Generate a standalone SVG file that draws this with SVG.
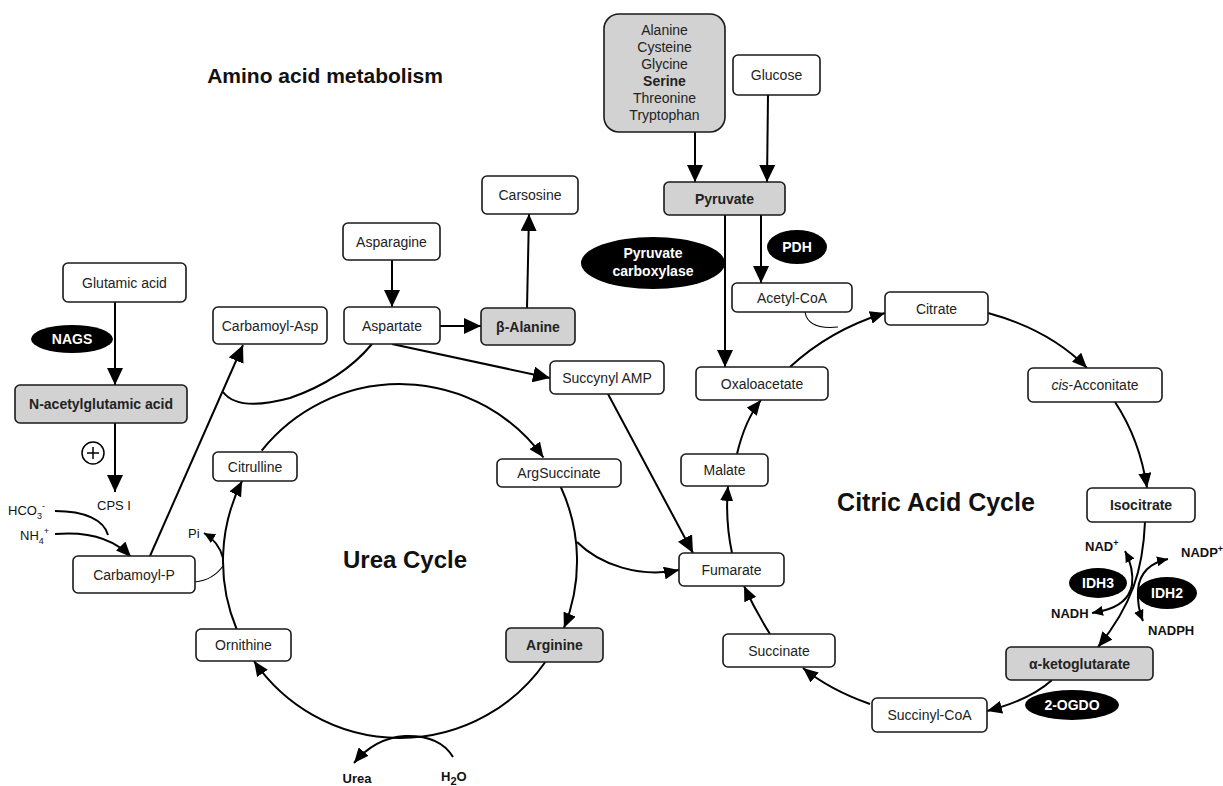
<svg xmlns="http://www.w3.org/2000/svg" width="1223" height="786" viewBox="0 0 1223 786">
<style>
.box{fill:#fff;stroke:#1a1a1a;stroke-width:1.6}
.gbox{fill:#d2d2d2;stroke:#1a1a1a;stroke-width:1.6}
.t{font-family:"Liberation Sans",Arial,sans-serif;font-size:14px;fill:#222;text-anchor:middle}
.b{font-weight:bold}
.en{fill:#000}
.et{font-family:"Liberation Sans",Arial,sans-serif;font-size:14px;fill:#fff;font-weight:bold;text-anchor:middle}
.ln{fill:none;stroke:#000;stroke-width:2}
.thin{fill:none;stroke:#000;stroke-width:1.1}
.lab{font-family:"Liberation Sans",Arial,sans-serif;font-size:13px;fill:#111}
.title{font-family:"Liberation Sans",Arial,sans-serif;font-weight:bold;fill:#111;text-anchor:middle}
</style>
<defs>
<marker id="a" markerUnits="userSpaceOnUse" markerWidth="17" markerHeight="16" refX="17" refY="8" orient="auto"><path d="M0,0 L17,8 L0,16 z" fill="#000"/></marker>
<marker id="m" markerUnits="userSpaceOnUse" markerWidth="15" markerHeight="13" refX="15" refY="6.5" orient="auto"><path d="M0,0 L15,6.5 L0,13 z" fill="#000"/></marker>
<marker id="s" markerUnits="userSpaceOnUse" markerWidth="11" markerHeight="10" refX="11" refY="5" orient="auto"><path d="M0,0 L11,5 L0,10 z" fill="#000"/></marker>
</defs>

<text class="title" x="325" y="83" font-size="21">Amino acid metabolism</text>
<text class="title" x="405" y="568" font-size="24">Urea Cycle</text>
<text class="title" x="936" y="511" font-size="25">Citric Acid Cycle</text>

<g id="connectors">
<line class="ln" x1="115" y1="302" x2="115" y2="385" marker-end="url(#a)"/>
<line class="ln" x1="115" y1="423" x2="115" y2="492" marker-end="url(#a)"/>
<path class="ln" d="M55,511 C85,511 104,520 108,535"/>
<path class="ln" d="M55,534 C90,531 115,540 131,557" marker-end="url(#m)"/>
<line class="ln" x1="150" y1="556" x2="243" y2="345" marker-end="url(#a)"/>
<path class="ln" d="M223,392 Q238,412 290,398 Q342,380 372,344"/>
<line class="ln" x1="392" y1="260" x2="392" y2="307" marker-end="url(#a)"/>
<line class="ln" x1="440" y1="326" x2="481" y2="326" marker-end="url(#a)"/>
<line class="ln" x1="527" y1="308" x2="529" y2="214" marker-end="url(#a)"/>
<line class="ln" x1="392" y1="344" x2="550" y2="378" marker-end="url(#a)"/>
<line class="ln" x1="608" y1="394" x2="693" y2="553" marker-end="url(#a)"/>
<path class="ln" d="M577,542 C600,565 640,578 679,570" marker-end="url(#m)"/>
<path class="ln" d="M261.7,450.6 A177,177 0 0 1 543.5,457.5" marker-end="url(#m)"/>
<path class="ln" d="M560.8,487 A177,177 0 0 1 563.9,628" marker-end="url(#m)"/>
<path class="ln" d="M545.3,662 A177,177 0 0 1 254,661" marker-end="url(#m)"/>
<path class="ln" d="M236.6,629 A177,177 0 0 1 242.1,481" marker-end="url(#m)"/>
<path class="thin" d="M195,582 Q213,580 223,566"/>
<path class="ln" d="M223,558 Q219,542 204,533" stroke-width="1.6" marker-end="url(#s)"/>
<path class="ln" d="M453,757 Q440,735 405,736 Q375,738 354,763" marker-end="url(#m)"/>
<line class="ln" x1="695" y1="132" x2="695" y2="182" marker-end="url(#a)"/>
<line class="ln" x1="768" y1="95" x2="767" y2="182" marker-end="url(#a)"/>
<line class="ln" x1="725" y1="215" x2="725" y2="367" marker-end="url(#a)"/>
<line class="ln" x1="761" y1="215" x2="761" y2="283" marker-end="url(#a)"/>
<path class="thin" d="M805,312 Q808,330 838,327"/>
<path class="ln" d="M790,367 Q830,330 885,313" marker-end="url(#m)"/>
<path class="ln" d="M988,313 Q1050,330 1087,368" marker-end="url(#m)"/>
<path class="ln" d="M1115,402 Q1140,440 1147,488" marker-end="url(#m)"/>
<path class="ln" d="M1145,522 C1143,570 1132,605 1098,647" marker-end="url(#m)"/>
<path class="ln" d="M1052,680 Q1030,700 987,711" marker-end="url(#m)"/>
<path class="ln" d="M870,704 Q830,690 803,668" marker-end="url(#m)"/>
<path class="ln" d="M770,634 Q755,610 744,586" marker-end="url(#m)"/>
<path class="ln" d="M732,553 Q725,520 728,486" marker-end="url(#m)"/>
<path class="ln" d="M737,454 Q745,420 761,400" marker-end="url(#m)"/>
<path class="ln" stroke-width="1.5" d="M1102,611 Q1128,605 1132,585 Q1134,568 1125,551" marker-end="url(#s)"/>
<path class="ln" stroke-width="1.5" d="M1102,611 L1092,613" marker-end="url(#s)"/>
<path class="ln" stroke-width="1.5" d="M1138,590 Q1140,565 1168,559" marker-end="url(#s)"/>
<path class="ln" stroke-width="1.5" d="M1138,590 Q1137,607 1143,621" marker-end="url(#s)"/>
</g>

<g id="plus"><circle cx="93" cy="453" r="11" fill="none" stroke="#000" stroke-width="1.5"/><line x1="87" y1="453" x2="99" y2="453" stroke="#000" stroke-width="1.5"/><line x1="93" y1="447" x2="93" y2="459" stroke="#000" stroke-width="1.5"/></g>

<g id="labels">
<text class="lab" x="114" y="510" text-anchor="middle" font-size="14">CPS I</text>
<text class="lab" x="8" y="515" font-size="14">HCO<tspan font-size="9" dy="4">3</tspan><tspan font-size="9" dy="-10">-</tspan></text>
<text class="lab" x="20" y="540" font-size="14">NH<tspan font-size="9" dy="4">4</tspan><tspan font-size="9" dy="-10">+</tspan></text>
<text class="lab" x="188" y="538" font-size="14">Pi</text>
<text class="lab" x="357" y="783" text-anchor="middle" font-weight="bold" font-size="16">Urea</text>
<text class="lab" x="441" y="781" font-weight="bold" font-size="16">H<tspan font-size="11" dy="4">2</tspan><tspan dy="-4">O</tspan></text>
<text class="lab" x="1085" y="551" font-weight="bold" font-size="14">NAD<tspan font-size="9" dy="-5">+</tspan></text>
<text class="lab" x="1051" y="618" font-weight="bold" font-size="14">NADH</text>
<text class="lab" x="1181" y="557" font-weight="bold" font-size="14">NADP<tspan font-size="9" dy="-5">+</tspan></text>
<text class="lab" x="1148" y="635" font-weight="bold" font-size="14">NADPH</text>
</g>

<g id="n-glutamic"><rect class="box" x="63" y="263" width="123" height="39" rx="5"/><text class="t" x="124.5" y="287.5">Glutamic acid</text></g>
<g id="n-nags"><ellipse class="en" cx="72" cy="339" rx="41" ry="14"/><text class="et" x="72" y="344" font-size="13">NAGS</text></g>
<g id="n-nacetyl"><rect class="gbox" x="15" y="385" width="172" height="38" rx="5"/><text class="t b" x="101" y="409">N-acetylglutamic acid</text></g>
<g id="n-carbamoylp"><rect class="box" x="73" y="556" width="122" height="37" rx="5"/><text class="t" x="134" y="579.5">Carbamoyl-P</text></g>
<g id="n-carbamoylasp"><rect class="box" x="213" y="307" width="114" height="37" rx="5"/><text class="t" x="270" y="330.5">Carbamoyl-Asp</text></g>
<g id="n-aspartate"><rect class="box" x="344" y="307" width="96" height="37" rx="5"/><text class="t" x="392" y="330.5">Aspartate</text></g>
<g id="n-balanine"><rect class="gbox" x="481" y="308" width="94" height="37" rx="5"/><text class="t b" x="528" y="331.5">β-Alanine</text></g>
<g id="n-asparagine"><rect class="box" x="343" y="223" width="97" height="37" rx="5"/><text class="t" x="391.5" y="246.5">Asparagine</text></g>
<g id="n-carsosine"><rect class="box" x="482" y="176" width="96" height="38" rx="5"/><text class="t" x="530" y="200">Carsosine</text></g>
<g id="n-succynylamp"><rect class="box" x="550" y="361" width="114" height="33" rx="5"/><text class="t" x="607" y="382.5">Succynyl AMP</text></g>
<g id="n-citrulline"><rect class="box" x="213" y="452" width="84" height="29" rx="5"/><text class="t" x="255" y="471.5">Citrulline</text></g>
<g id="n-argsuccinate"><rect class="box" x="497" y="459" width="124" height="28" rx="5"/><text class="t" x="559" y="478">ArgSuccinate</text></g>
<g id="n-ornithine"><rect class="box" x="196" y="629" width="95" height="32" rx="5"/><text class="t" x="243.5" y="650">Ornithine</text></g>
<g id="n-arginine"><rect class="gbox" x="506" y="628" width="97" height="34" rx="5"/><text class="t b" x="554.5" y="650">Arginine</text></g>
<g id="n-aminoacids"><rect class="gbox" x="604" y="14" width="121" height="118" rx="15"/>
<text class="t" font-size="13"><tspan x="664.5" y="35">Alanine</tspan><tspan x="664.5" y="52">Cysteine</tspan><tspan x="664.5" y="69">Glycine</tspan><tspan x="664.5" y="86" font-weight="bold">Serine</tspan><tspan x="664.5" y="103">Threonine</tspan><tspan x="664.5" y="120">Tryptophan</tspan></text></g>
<g id="n-glucose"><rect class="box" x="733" y="55" width="87" height="40" rx="5"/><text class="t" x="776.5" y="80">Glucose</text></g>
<g id="n-pyruvate"><rect class="gbox" x="664" y="182" width="121" height="33" rx="5"/><text class="t b" x="724.5" y="203.5">Pyruvate</text></g>
<g id="n-pc"><ellipse class="en" cx="653" cy="263" rx="72" ry="26"/><text class="et" x="653" y="258">Pyruvate</text><text class="et" x="653" y="276">carboxylase</text></g>
<g id="n-pdh"><ellipse class="en" cx="797" cy="247" rx="30" ry="17"/><text class="et" x="797" y="252" font-size="13">PDH</text></g>
<g id="n-acetylcoa"><rect class="box" x="732" y="283" width="120" height="29" rx="5"/><text class="t" x="792" y="302.5">Acetyl-CoA</text></g>
<g id="n-oxaloacetate"><rect class="box" x="696" y="367" width="132" height="33" rx="5"/><text class="t" x="762" y="388.5">Oxaloacetate</text></g>
<g id="n-citrate"><rect class="box" x="885" y="292" width="103" height="33" rx="5"/><text class="t" x="936.5" y="313.5">Citrate</text></g>
<g id="n-cisaconitate"><rect class="box" x="1028" y="368" width="134" height="34" rx="5"/><text class="t" x="1095" y="390"><tspan font-style="italic">cis</tspan>-Acconitate</text></g>
<g id="n-isocitrate"><rect class="box" x="1087" y="488" width="108" height="34" rx="5"/><text class="t b" x="1141" y="510">Isocitrate</text></g>
<g id="n-idh3"><ellipse class="en" cx="1098" cy="583" rx="29" ry="15"/><text class="et" x="1098" y="588">IDH3</text></g>
<g id="n-idh2"><ellipse class="en" cx="1167" cy="593" rx="30" ry="16"/><text class="et" x="1167" y="598">IDH2</text></g>
<g id="n-akg"><rect class="gbox" x="1006" y="647" width="147" height="33" rx="5"/><text class="t b" x="1079.5" y="668.5">α-ketoglutarate</text></g>
<g id="n-2ogdo"><ellipse class="en" cx="1072" cy="705" rx="47" ry="15"/><text class="et" x="1072" y="710" font-size="13.5">2-OGDO</text></g>
<g id="n-succinylcoa"><rect class="box" x="872" y="698" width="115" height="34" rx="5"/><text class="t" x="929.5" y="720">Succinyl-CoA</text></g>
<g id="n-succinate"><rect class="box" x="723" y="634" width="112" height="33" rx="5"/><text class="t" x="779" y="655.5">Succinate</text></g>
<g id="n-fumarate"><rect class="box" x="679" y="553" width="105" height="33" rx="5"/><text class="t" x="731.5" y="574.5">Fumarate</text></g>
<g id="n-malate"><rect class="box" x="681" y="454" width="87" height="32" rx="5"/><text class="t" x="724.5" y="475">Malate</text></g>
</svg>
